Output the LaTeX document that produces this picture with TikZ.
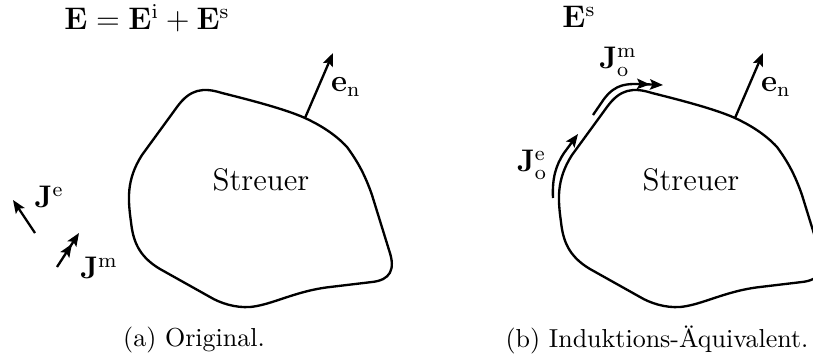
\documentclass[tikz,border=0pt]{standalone}
\usepackage{amsmath}
\usetikzlibrary{arrows.meta}
\begin{document}
\begin{tikzpicture}[x=0.3846pt,y=-0.3846pt,
  shapeline/.style={line width=0.9pt, line join=round},
  arr/.style={line width=0.9pt, -{Stealth[length=5pt,width=4pt,inset=1pt]}},
  darr/.style={line width=0.9pt, -{Stealth[length=5pt,width=4pt,inset=1pt]Stealth[length=5pt,width=4pt,inset=1pt]}},
  lbl/.style={font=\large, inner sep=0pt},
  captxt/.style={font=\normalsize, inner sep=0pt},
  streuer/.pic={
    \draw[shapeline] (222,93) .. controls (250,100) and (285,109) .. (305,118)
      .. controls (320,125) and (335,134) .. (347,147)
      .. controls (358,162) and (365,175) .. (372,195) -- (389,250)
      .. controls (396,270) and (390,280) .. (372,282) -- (330,287)
      .. controls (295,291) and (272,305) .. (250,307)
      .. controls (235,308) and (220,303) .. (210,297) -- (160,269)
      .. controls (138,256) and (133,240) .. (131,222)
      .. controls (128,200) and (126,180) .. (142,155) -- (177,107)
      .. controls (190,89) and (203,87) .. (222,93) -- cycle;
  }]
\clip (0,0) rectangle (813,360);
% (a)
\pic at (0,0) {streuer};
\node[lbl] (titleA) at (147,18) {$\mathbf{E} = \mathbf{E}^{\mathrm{i}} + \mathbf{E}^{\mathrm{s}}$};
\node[lbl] (streuerA) at (261,180) {Streuer};
\coordinate (enAbase) at (305,118);
\coordinate (enAtip) at (333,53);
\draw[arr] (enAbase) -- (enAtip);
\node[lbl] (enA) at (346,87) {$\mathbf{e}_{\mathrm{n}}$};
\coordinate (JeS) at (35,233);
\coordinate (JeT) at (13,200);
\draw[arr] (JeS) -- (JeT);
\node[lbl] (JeL) at (49,197) {$\mathbf{J}^{\mathrm{e}}$};
\coordinate (JmS) at (57,267);
\coordinate (JmT) at (79,233);
\draw[darr] (JmS) -- (JmT);
\node[lbl] (JmL) at (99,268) {$\mathbf{J}^{\mathrm{m}}$};
\node[captxt] (capA) at (194,340) {(a) Original.};
% (b)
\pic at (430,0) {streuer};
\node[lbl] (titleB) at (579,17) {$\mathbf{E}^{\mathrm{s}}$};
\node[lbl] (streuerB) at (691,180) {Streuer};
\coordinate (enBbase) at (735,118);
\coordinate (enBtip) at (763,53);
\draw[arr] (enBbase) -- (enBtip);
\node[lbl] (enB) at (776,87) {$\mathbf{e}_{\mathrm{n}}$};
\coordinate (JoeS) at (553,198);
\coordinate (JoeK) at (564,153);
\coordinate (JoeT) at (578,134);
\draw[arr] (JoeS) .. controls (552,178) and (556,165) .. (JoeK) -- (JoeT);
\node[lbl] (JoeL) at (532,165) {$\mathbf{J}^{\mathrm{e}}_{\mathrm{o}}$};
\coordinate (JomS) at (593,115);
\coordinate (JomK) at (604,99);
\coordinate (JomT) at (663,85);
\draw[darr] (JomS) -- (JomK) .. controls (616,83) and (628,84) .. (640,84) -- (JomT);
\node[lbl] (JomL) at (618,62) {$\mathbf{J}^{\mathrm{m}}_{\mathrm{o}}$};
\node[captxt] (capB) at (657,340) {(b) Induktions-Äquivalent.};
\end{tikzpicture}
\end{document}
